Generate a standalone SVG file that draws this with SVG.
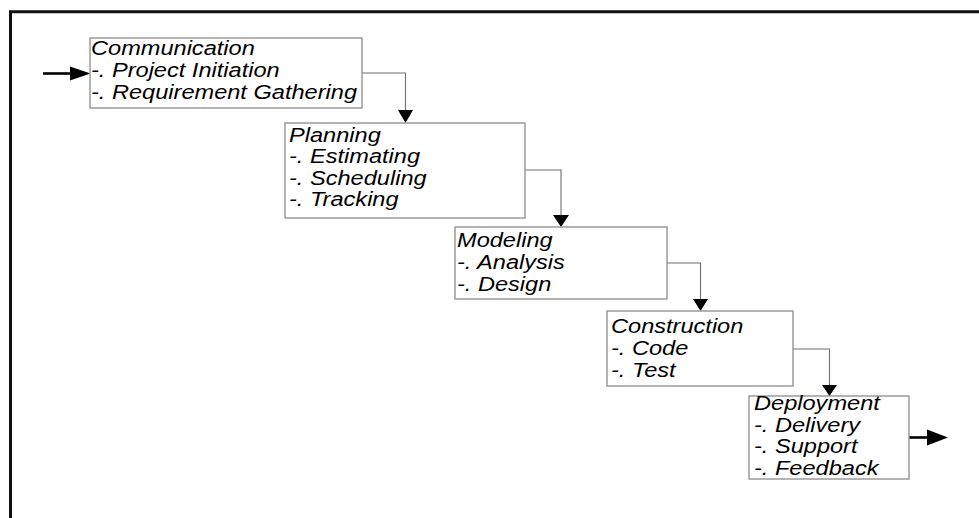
<svg xmlns="http://www.w3.org/2000/svg" width="979" height="518" viewBox="0 0 979 518">
<style>
.box{fill:#fff;stroke:#8c8c8c;stroke-width:1.3}
.t{font-family:"Liberation Sans",Arial,sans-serif;font-style:italic;font-size:19.5px;fill:#000}
.con{fill:none;stroke:#6e6e6e;stroke-width:1.1}
.head{fill:#000}
.io{fill:none;stroke:#000;stroke-width:2.6}
</style>
<rect width="979" height="518" fill="#fff"/>
<path d="M10.5,518 V11.8 H979" fill="none" stroke="#111" stroke-width="3"/>
<g id="connectors">
  <path class="io" d="M43,73.5 H72"/>
  <polygon class="head" points="70,66.5 70,80.5 90.5,73.5"/>
  <path class="con" d="M362,73 H405.5 V111"/>
  <polygon class="head" points="398,110 413,110 405.5,123"/>
  <path class="con" d="M525,170 H561 V216"/>
  <polygon class="head" points="553,215 569,215 561,227"/>
  <path class="con" d="M667,263 H700.5 V300"/>
  <polygon class="head" points="693,299 708,299 700.5,311"/>
  <path class="con" d="M793,349 H829.5 V386"/>
  <polygon class="head" points="822,385 837,385 829.5,396"/>
  <path class="io" d="M909,437.5 H929"/>
  <polygon class="head" points="927,429.5 927,445.5 948,437.5"/>
</g>
<g id="communication">
  <rect class="box" x="90" y="38" width="272" height="70"/>
  <g transform="translate(91,0) scale(1.21,1)">
    <text class="t" x="0" y="55.5">Communication</text>
    <text class="t" x="0" y="77.5">-. Project Initiation</text>
    <text class="t" x="0" y="99.5">-. Requirement Gathering</text>
  </g>
</g>
<g id="planning">
  <rect class="box" x="285" y="123" width="240" height="95"/>
  <g transform="translate(289,0) scale(1.21,1)">
    <text class="t" x="0" y="142">Planning</text>
    <text class="t" x="0" y="163.5">-. Estimating</text>
    <text class="t" x="0" y="185">-. Scheduling</text>
    <text class="t" x="0" y="206.5">-. Tracking</text>
  </g>
</g>
<g id="modeling">
  <rect class="box" x="455" y="227" width="212" height="72"/>
  <g transform="translate(457,0) scale(1.21,1)">
    <text class="t" x="0" y="247">Modeling</text>
    <text class="t" x="0" y="269">-. Analysis</text>
    <text class="t" x="0" y="291">-. Design</text>
  </g>
</g>
<g id="construction">
  <rect class="box" x="607" y="311" width="186" height="75"/>
  <g transform="translate(611,0) scale(1.21,1)">
    <text class="t" x="0" y="333">Construction</text>
    <text class="t" x="0" y="355">-. Code</text>
    <text class="t" x="0" y="377">-. Test</text>
  </g>
</g>
<g id="deployment">
  <rect class="box" x="749" y="396" width="160" height="83"/>
  <g transform="translate(754,0) scale(1.21,1)">
    <text class="t" x="0" y="410.5">Deployment</text>
    <text class="t" x="0" y="432">-. Delivery</text>
    <text class="t" x="0" y="453.5">-. Support</text>
    <text class="t" x="0" y="475">-. Feedback</text>
  </g>
</g>
</svg>
